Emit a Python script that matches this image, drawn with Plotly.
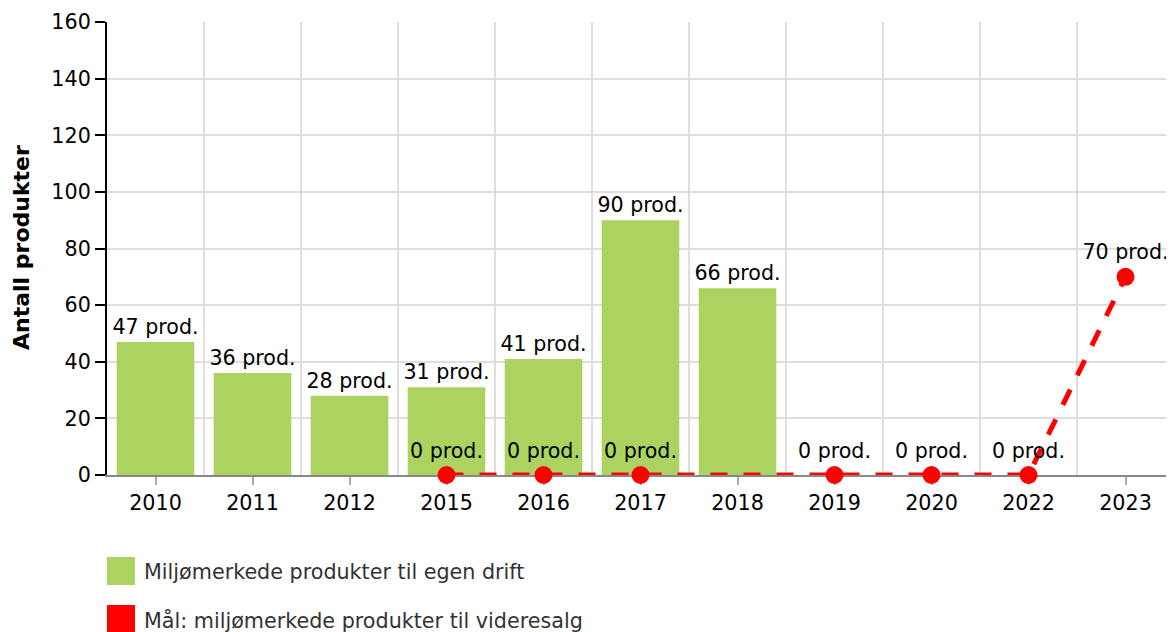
import plotly.graph_objects as go

years = ["2010", "2011", "2012", "2015", "2016", "2017", "2018", "2019", "2020", "2022", "2023"]
egen_drift = [47, 36, 28, 31, 41, 90, 66, None, None, None, None]
maal_videresalg = [None, None, None, 0, 0, 0, None, 0, 0, 0, 70]
series_names = ["Miljømerkede produkter til egen drift", "Mål: miljømerkede produkter til videresalg"]
y_title = "Antall produkter"

green = "#acd35f"
red = "#ff0000"
font_family = "Verdana, DejaVu Sans, sans-serif"

# the page body has an 8px margin, so the figure is drawn 8px in from the top-left
OFF = 8
W, H = 1174 - OFF, 632 - OFF
L, R, T, B = 107 - OFF, 0, 22 - OFF, 632 - 475
pw, ph = W - L - R, H - T - B


def px_x(p):
    return (p - OFF - L) / pw


def px_y(p):
    return (H - B - (p - OFF)) / ph


fig = go.Figure()
fig.add_trace(go.Bar(
    x=years, y=egen_drift, name=series_names[0],
    marker=dict(color=green, line=dict(width=0)),
    text=[f"{v} prod." if v is not None else "" for v in egen_drift],
    textposition="outside", cliponaxis=False, constraintext="none",
    textfont=dict(size=20.6, color="#000", family=font_family),
    showlegend=False,
))
fig.add_trace(go.Scatter(
    x=years, y=maal_videresalg, mode="lines+markers+text", name=series_names[1],
    connectgaps=True, showlegend=False,
    line=dict(color=red, width=5, dash="17px,16px"),
    marker=dict(color=red, size=18),
    text=[f"{v} prod." if v is not None else "" for v in maal_videresalg],
    textposition="top center", cliponaxis=False,
    textfont=dict(size=20.6, color="#000", family=font_family),
))

shapes = []
annotations = []
# manual legend (large square swatches as in the reference)
for i, (name, col) in enumerate(zip(series_names, [green, red])):
    top = 557 + i * 48
    shapes.append(dict(type="rect", xref="paper", yref="paper",
                       x0=px_x(107), x1=px_x(135), y0=px_y(top + 28), y1=px_y(top),
                       fillcolor=col, line=dict(width=0), layer="above"))
    annotations.append(dict(xref="paper", yref="paper", x=px_x(142), y=px_y(top + 15),
                            xanchor="left", yanchor="middle", showarrow=False, text=name,
                            font=dict(size=20.7, color="#333", family=font_family)))
# y axis title
annotations.append(dict(xref="paper", yref="paper", x=px_x(21), y=px_y(248), textangle=-90,
                        xanchor="center", yanchor="middle", showarrow=False,
                        text=f"<b>{y_title}</b>",
                        font=dict(size=22, color="#000", family=font_family)))

fig.update_layout(
    width=W, height=H,
    margin=dict(l=L, r=R, t=T, b=B),
    paper_bgcolor="white", plot_bgcolor="white",
    font=dict(family=font_family, size=21, color="#000"),
    bargap=0.2,
    showlegend=False,
    shapes=shapes, annotations=annotations,
    xaxis=dict(
        type="category", range=[-0.5, 10.5], automargin=False,
        showgrid=False, layer="below traces",
        showline=True, linecolor="#888", linewidth=2,
        ticks="outside", ticklen=8, tickcolor="#aaa", tickwidth=2,
        tickfont=dict(size=20.7, color="#000"),
    ),
    xaxis2=dict(
        overlaying="x", range=[-0.5, 10.5], automargin=False,
        tickvals=[i + 0.5 for i in range(len(years) - 1)],
        showgrid=True, gridcolor="#dedede", gridwidth=2, showticklabels=False,
        showline=False, zeroline=False, ticks="", layer="below traces",
    ),
    yaxis=dict(
        range=[0, 160], dtick=20, automargin=False,
        showgrid=True, gridcolor="#dedede", gridwidth=2,
        showline=True, linecolor="#000", linewidth=2,
        ticks="outside", ticklen=10, tickcolor="#000", tickwidth=2,
        tickfont=dict(size=20.7, color="#000"),
        zeroline=False,
    ),
)
fig.add_trace(go.Scatter(x=[0], y=[None], xaxis="x2", showlegend=False, hoverinfo="skip"))

fig.write_html("out.html")
